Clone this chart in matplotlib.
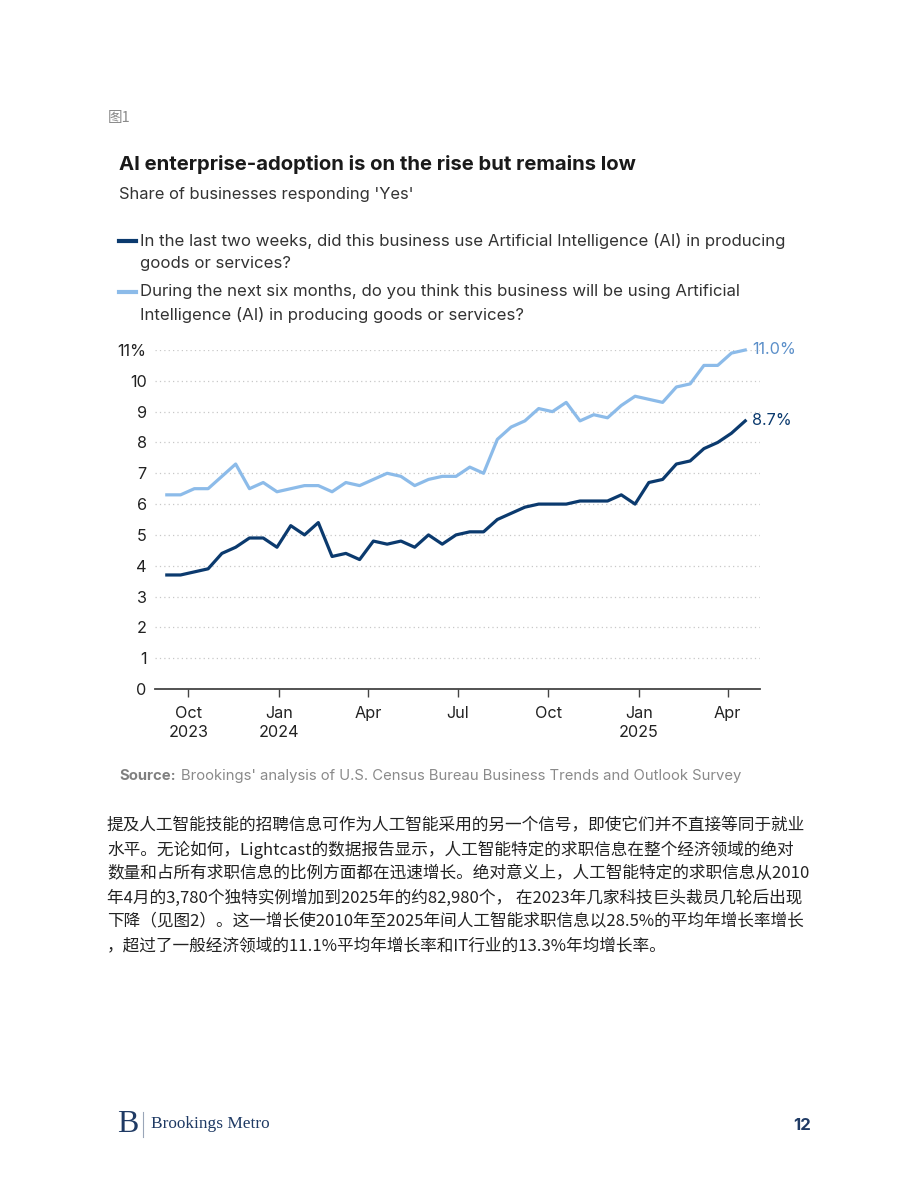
import matplotlib
matplotlib.use('Agg')
import matplotlib.pyplot as plt
from matplotlib.lines import Line2D
import pandas as pd

# 数据：两周一次的调查（BTOS），2023年9月 - 2025年4月
start_date = '2023-09-09'
use_ai = [3.7, 3.7, 3.8, 3.9, 4.4, 4.6, 4.9, 4.9, 4.6, 5.3, 5.0, 5.4, 4.3, 4.4, 4.2,
          4.8, 4.7, 4.8, 4.6, 5.0, 4.7, 5.0, 5.1, 5.1, 5.5, 5.7, 5.9, 6.0, 6.0, 6.0,
          6.1, 6.1, 6.1, 6.3, 6.0, 6.7, 6.8, 7.3, 7.4, 7.8, 8.0, 8.3, 8.7]
expect_ai = [6.3, 6.3, 6.5, 6.5, 6.9, 7.3, 6.5, 6.7, 6.4, 6.5, 6.6, 6.6, 6.4, 6.7, 6.6,
             6.8, 7.0, 6.9, 6.6, 6.8, 6.9, 6.9, 7.2, 7.0, 8.1, 8.5, 8.7, 9.1, 9.0, 9.3,
             8.7, 8.9, 8.8, 9.2, 9.5, 9.4, 9.3, 9.8, 9.9, 10.5, 10.5, 10.9, 11.0]
dates = pd.date_range(start_date, periods=len(use_ai), freq='14D')

x_ticks = ['2023-10-01', '2024-01-01', '2024-04-01', '2024-07-01',
           '2024-10-01', '2025-01-01', '2025-04-01']
x_tick_labels = ['Oct\n2023', 'Jan\n2024', 'Apr', 'Jul', 'Oct', 'Jan\n2025', 'Apr']
y_ticks = list(range(0, 12))
y_tick_labels = [str(v) for v in y_ticks[:-1]] + ['11%']

legend_labels = ['In the last two weeks, did this business use Artificial Intelligence (AI) in producing\ngoods or services?',
                 'During the next six months, do you think this business will be using Artificial\nIntelligence (AI) in producing goods or services?']

paragraph = ['提及人工智能技能的招聘信息可作为人工智能采用的另一个信号，即使它们并不直接等同于就业',
             '水平。无论如何，Lightcast的数据报告显示，人工智能特定的求职信息在整个经济领域的绝对',
             '数量和占所有求职信息的比例方面都在迅速增长。绝对意义上，人工智能特定的求职信息从2010',
             '年4月的3,780个独特实例增加到2025年的约82,980个， 在2023年几家科技巨头裁员几轮后出现',
             '下降（见图2）。这一增长使2010年至2025年间人工智能求职信息以28.5%的平均年增长率增长',
             '，超过了一般经济领域的11.1%平均年增长率和IT行业的13.3%年均增长率。']

DARK = '#0b3a6e'
LIGHT = '#8cbbe9'
LIGHT_TXT = '#5b8fc9'
W, H = 920, 1191

plt.rcParams['font.family'] = ['Inter', 'DejaVu Sans']
fig = plt.figure(figsize=(W / 100, H / 100), dpi=100)


def px(x, y):
    return x / W, 1 - y / H


ax = fig.add_axes([155 / W, 1 - 689 / H, (760 - 155) / W, (689 - 350) / H])
ax.plot(dates, expect_ai, color=LIGHT, linewidth=2.3, clip_on=False)
ax.plot(dates, use_ai, color=DARK, linewidth=2.3, clip_on=False)

# 终点标签
ax.annotate(f'{expect_ai[-1]:.1f}%', (dates[-1], expect_ai[-1]), xytext=(5, 0),
            textcoords='offset points', va='center', ha='left', fontsize=11.7,
            color=LIGHT_TXT, annotation_clip=False)
ax.annotate(f'{use_ai[-1]:.1f}%', (dates[-1], use_ai[-1]), xytext=(5, 0),
            textcoords='offset points', va='center', ha='left', fontsize=11.7,
            color=DARK, annotation_clip=False)

ax.set_ylim(0, 11)
ax.set_xlim(pd.Timestamp('2023-08-28'), pd.Timestamp('2025-05-04'))
ax.set_yticks(y_ticks)
ax.set_yticklabels(y_tick_labels)
ax.set_xticks(pd.to_datetime(x_ticks))
ax.set_xticklabels(x_tick_labels)
ax.tick_params(axis='y', length=0, labelsize=11.7, labelcolor='#222222', pad=6)
ax.tick_params(axis='x', length=6, width=1, color='#444444', labelsize=11.7,
               labelcolor='#222222', pad=6)
for lab in ax.get_xticklabels():
    lab.set_linespacing(1.35)

ax.grid(axis='y', color='#c8c8c8', linestyle=(0, (1, 2.5)), linewidth=0.9)
ax.set_axisbelow(True)
for s in ['top', 'right', 'left']:
    ax.spines[s].set_visible(False)
ax.spines['bottom'].set_color('#444444')
ax.spines['bottom'].set_linewidth(1.3)
ax.spines['bottom'].set_zorder(5)

# 标题、副标题
fig.text(*px(108, 118), '图1', fontsize=10.5, color='#8a8a8a', va='center',
         family=['Noto Sans CJK SC', 'DejaVu Sans'])
fig.text(*px(119, 165), 'AI enterprise-adoption is on the rise but remains low',
         fontsize=14.6, fontweight='bold', color='#1a1a1a', va='center')
fig.text(*px(119, 194), "Share of businesses responding 'Yes'", fontsize=11.9,
         color='#333333', va='center')

# 图例
for (y0, lab, col) in [(241, legend_labels[0], DARK), (292, legend_labels[1], LIGHT)]:
    fig.add_artist(Line2D([119 / W, 136 / W], [1 - y0 / H, 1 - y0 / H], color=col,
                          linewidth=3, transform=fig.transFigure))
    fig.text(*px(140, y0 - 8), lab, fontsize=12.1, color='#333333', va='top',
             linespacing=1.62)

# 来源
fig.text(*px(119, 776), 'Source:', fontsize=10.7, fontweight='bold', color='#808080', va='center')
fig.text(*px(181, 776), "Brookings' analysis of U.S. Census Bureau Business Trends and Outlook Survey",
         fontsize=10.7, color='#8a8a8a', va='center')

# 正文段落
for i, line in enumerate(paragraph):
    fig.text(*px(107, 826 + 24 * i), line, fontsize=12.0, color='#222222', va='center',
             family=['Noto Sans CJK SC', 'DejaVu Sans'])

# 页脚
fig.text(*px(117, 1125), 'B', fontsize=23, color='#1f3a64', va='center',
         family=['Liberation Serif'])
fig.add_artist(Line2D([143 / W, 143 / W], [1 - 1112 / H, 1 - 1137 / H], color='#9aa6b8',
                      linewidth=0.8, transform=fig.transFigure))
fig.text(*px(151, 1124), 'Brookings Metro', fontsize=12.4, color='#1f3a64', va='center',
         family=['Liberation Serif'])
fig.text(*px(811, 1125), '12', fontsize=12, fontweight='bold', color='#1f3a64',
         va='center', ha='right')

fig.savefig('out.png', dpi=100, facecolor='white')
